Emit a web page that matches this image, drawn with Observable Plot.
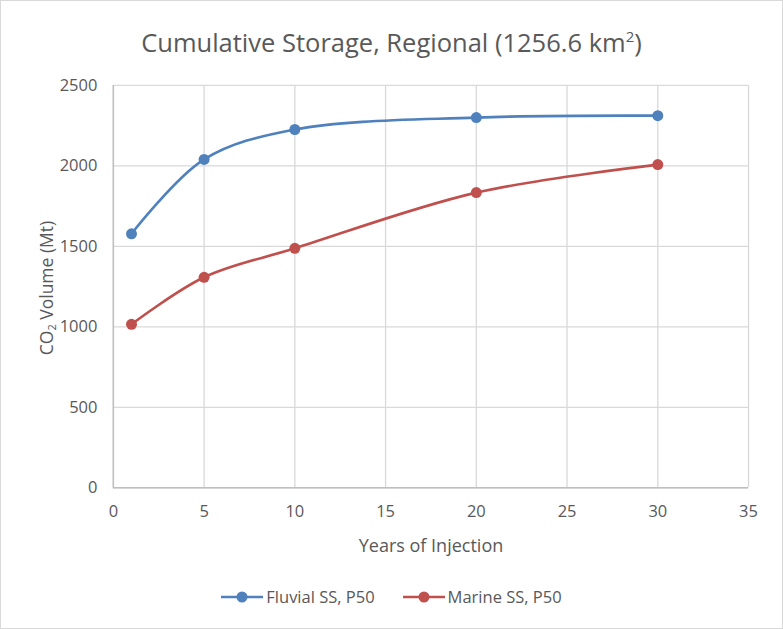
<!DOCTYPE html>
<html>
<head>
<meta charset="utf-8">
<script src="https://cdn.jsdelivr.net/npm/d3@7"></script>
<script src="https://cdn.jsdelivr.net/npm/@observablehq/plot@0.6"></script>
<style>
  html, body { margin: 0; padding: 0; background: #fff; }
  #chart { position: relative; width: 781px; height: 627px; border: 1px solid #d9d9d9; font-family: "Open Sans", sans-serif; color: #595959; overflow: hidden; }
  #title { position: absolute; top: 24px; left: 0; width: 781px; text-align: center; font-size: 25.5px; }
  #title sup { font-size: 15px; vertical-align: 10px; line-height: 0; }
  #plot { position: absolute; left: -1px; top: -1px; }
  #xlabel { position: absolute; top: 532px; left: 112px; width: 636px; text-align: center; font-size: 18px; }
  #ylabel { position: absolute; left: 45px; top: 287px; transform: translate(-50%, -50%) rotate(-90deg); white-space: nowrap; font-size: 17.5px; }
  #ylabel sub { font-size: 11px; vertical-align: -3px; line-height: 0; }
  #legend { position: absolute; top: 584px; left: 0; width: 781px; display: flex; justify-content: center; gap: 28px; font-size: 16.5px; }
  .item { display: flex; align-items: center; gap: 3px; }
</style>
</head>
<body>
<div id="chart">
  <div id="plot"></div>
  <div id="title">Cumulative Storage, Regional (1256.6 km<sup>2</sup>)</div>
  <div id="xlabel">Years of Injection</div>
  <div id="ylabel">CO<sub>2</sub> Volume (Mt)</div>
  <div id="legend"></div>
</div>
<script>
const years = [1, 5, 10, 20, 30];
const fluvial = [1578, 2040, 2226, 2300, 2312];
const marine = [1016, 1308, 1488, 1834, 2008];
const seriesNames = ["Fluvial SS, P50", "Marine SS, P50"];
const seriesColors = ["#4F81BD", "#C0504D"];
const xTicks = [0, 5, 10, 15, 20, 25, 30, 35];
const yTicks = [0, 500, 1000, 1500, 2000, 2500];

const data = [
  ...years.map((x, i) => ({x, y: fluvial[i], s: seriesNames[0]})),
  ...years.map((x, i) => ({x, y: marine[i], s: seriesNames[1]}))
];

const plot = Plot.plot({
  width: 783,
  height: 629,
  marginLeft: 113,
  marginRight: 34,
  marginTop: 85,
  marginBottom: 141,
  style: {fontFamily: "'Open Sans', sans-serif", fontSize: "16.5px", color: "#595959", background: "transparent"},
  x: {domain: [0, 35]},
  y: {domain: [0, 2500]},
  color: {domain: seriesNames, range: seriesColors},
  marks: [
    Plot.gridX(xTicks, {stroke: "#d9d9d9", strokeOpacity: 1, strokeWidth: 1.3}),
    Plot.gridY(yTicks, {stroke: "#d9d9d9", strokeOpacity: 1, strokeWidth: 1.3}),
    Plot.ruleX([0], {stroke: "#bfbfbf", strokeWidth: 1.5}),
    Plot.ruleY([0], {stroke: "#bfbfbf", strokeWidth: 1.5}),
    Plot.axisX(xTicks, {tickSize: 0, tickPadding: 17, tickFormat: d => String(d), label: null, fill: "#595959", fontSize: 16.5}),
    Plot.axisY(yTicks, {tickSize: 0, tickPadding: 16, tickFormat: d => String(d), label: null, fill: "#595959", fontSize: 16.5}),
    Plot.line(data, {x: "x", y: "y", stroke: "s", z: "s", curve: "catmull-rom", strokeWidth: 2.6}),
    Plot.dot(data, {x: "x", y: "y", fill: "s", r: 5.5})
  ]
});
document.getElementById("plot").appendChild(plot);

const legend = document.getElementById("legend");
seriesNames.forEach((name, i) => {
  const item = document.createElement("div");
  item.className = "item";
  item.innerHTML = `<svg width="42" height="14"><line x1="0" y1="7" x2="42" y2="7" stroke="${seriesColors[i]}" stroke-width="2.6"/><circle cx="21" cy="7" r="5.5" fill="${seriesColors[i]}"/></svg><span>${name}</span>`;
  legend.appendChild(item);
});
</script>
</body>
</html>
